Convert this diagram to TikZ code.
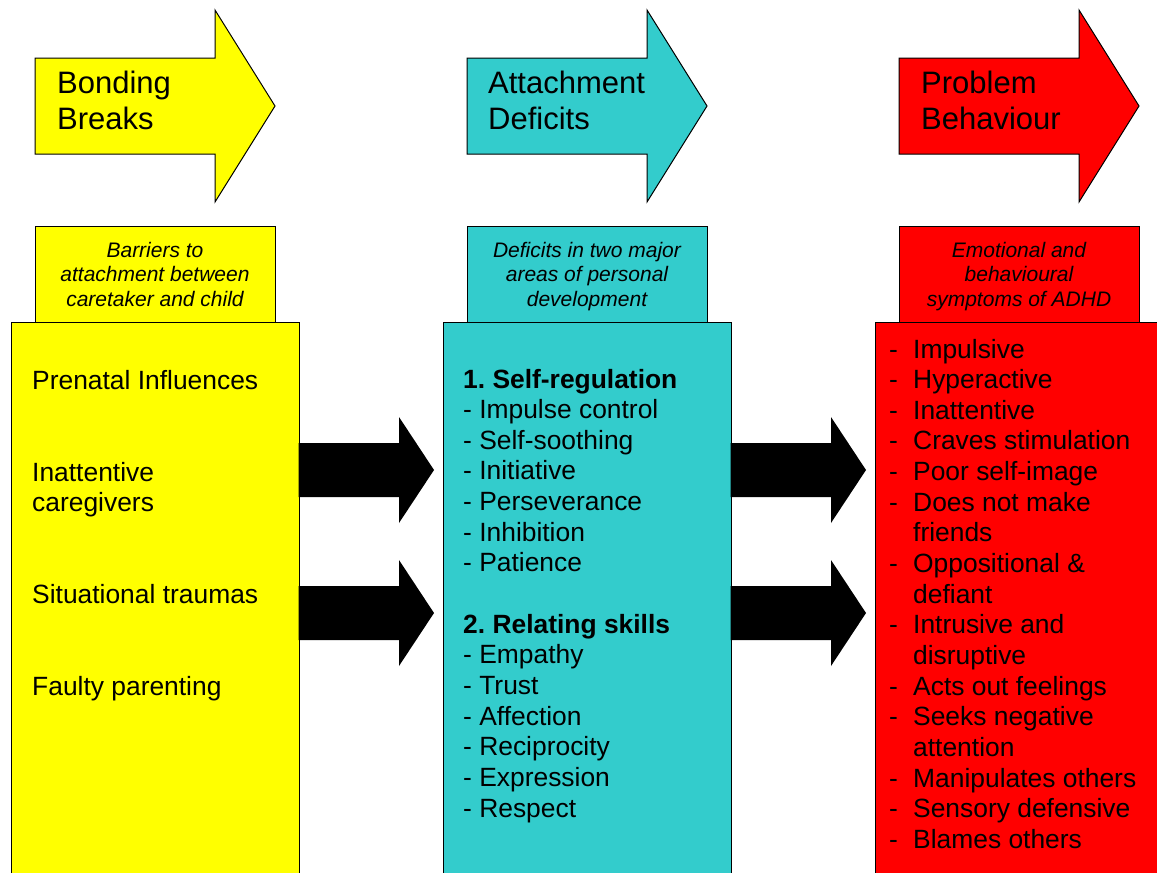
\documentclass[tikz,border=0pt]{standalone}
\usepackage{fontspec}
\setmainfont{Liberation Sans}
\frenchspacing
\definecolor{byellow}{HTML}{FFFF00}
\definecolor{bcyan}{HTML}{33CCCC}
\definecolor{bred}{HTML}{FF0000}
\tikzset{
  box/.style={draw=black, line width=1pt, rectangle, inner sep=0pt, outer sep=0pt, anchor=north west},
  bigarrow/.style={draw=black, line width=1pt},
  blackarrow/.style={fill=black, draw=none},
  titletext/.style={anchor=base west, inner sep=0pt, font=\fontsize{31}{36}\selectfont},
  subtext/.style={anchor=base, inner sep=0pt, font=\fontsize{21}{24.5}\selectfont\itshape},
  listtext/.style={anchor=base west, inner sep=0pt, font=\fontsize{26.4}{30.65}\selectfont},
}
\begin{document}
\begin{tikzpicture}[x=1pt,y=-1pt]
\useasboundingbox (0,0) rectangle (1157,873);
\clip (0,0) rectangle (1157,873);
\fill[white] (0,0) rectangle (1157,873);

% ---- title arrows ----
\foreach \c/\xo in {byellow/35, bcyan/467, bred/899}{
  \draw[bigarrow, fill=\c] (\xo,58) -- (\xo+180,58) -- (\xo+180,10) -- (\xo+240,106)
     -- (\xo+180,202) -- (\xo+180,154) -- (\xo,154) -- cycle;
}
\node[titletext] (t1a) at (57,93) {Bonding};
\node[titletext] (t1b) at (57,129) {Breaks};
\node[titletext] (t2a) at (488,93) {Attachment};
\node[titletext] (t2b) at (488,129) {Deficits};
\node[titletext] (t3a) at (921,93) {Problem};
\node[titletext] (t3b) at (921,129) {Behaviour};

% ---- main boxes ----
\node[box, fill=byellow, minimum width=288, minimum height=600] (m1) at (11,322) {};
\node[box, fill=bcyan, minimum width=288, minimum height=600] (m2) at (443,322) {};
\node[box, fill=bred, minimum width=320, minimum height=600] (m3) at (875,322) {};

% ---- subtitle boxes ----
\node[box, fill=byellow, minimum width=240, minimum height=96] (s1) at (35,226) {};
\node[box, fill=bcyan, minimum width=240, minimum height=96] (s2) at (467,226) {};
\node[box, fill=bred, minimum width=240, minimum height=96] (s3) at (899,226) {};

\node[subtext] (s1a) at (155,257) {Barriers to};
\node[subtext] (s1b) at (155,281.5) {attachment between};
\node[subtext] (s1c) at (155,306) {caretaker and child};
\node[subtext] (s2a) at (587,257) {Deficits in two major};
\node[subtext] (s2b) at (587,281.5) {areas of personal};
\node[subtext] (s2c) at (587,306) {development};
\node[subtext] (s3a) at (1019,257) {Emotional and};
\node[subtext] (s3b) at (1019,281.5) {behavioural};
\node[subtext] (s3c) at (1019,306) {symptoms of ADHD};

% ---- black connector arrows ----
\coordinate (a1) at (m1.east |- 0,470);
\coordinate (a2) at (m1.east |- 0,613);
\coordinate (a3) at (m2.east |- 0,470);
\coordinate (a4) at (m2.east |- 0,613);
\foreach \a in {a1,a2,a3,a4}{
  \fill[blackarrow] (\a) ++(-0.5,-27) -- ++(100.5,0) -- ++(0,-26) -- ++(35,53)
     -- ++(-35,53) -- ++(0,-26) -- ++(-100.5,0) -- cycle;
}

% ---- left list ----
\node[listtext] (l1) at (32,389) {Prenatal Influences};
\node[listtext] (l2) at (32,481) {Inattentive};
\node[listtext] (l3) at (32,511.5) {caregivers};
\node[listtext] (l4) at (32,603) {Situational traumas};
\node[listtext] (l5) at (32,695) {Faulty parenting};

% ---- middle list ----
\foreach \t [count=\i from 0] in {{\bfseries 1. Self-regulation},- Impulse control,- Self-soothing,- Initiative,- Perseverance,- Inhibition,- Patience,{},{\bfseries 2. Relating skills},- Empathy,- Trust,- Affection,- Reciprocity,- Expression,- Respect}{
  \node[listtext] (c\i) at (463,388+30.65*\i) {\t};
}

% ---- right list ----
\foreach \d/\t [count=\i from 0] in {-/Impulsive,-/Hyperactive,-/Inattentive,-/Craves stimulation,-/Poor self-image,-/Does not make,{}/friends,-/Oppositional \&,{}/defiant,-/Intrusive and,{}/disruptive,-/Acts out feelings,-/Seeks negative,{}/attention,-/Manipulates others,-/Sensory defensive,-/Blames others}{
  \node[listtext] (rd\i) at (889,358+30.65*\i) {\d};
  \node[listtext] (r\i) at (913,358+30.65*\i) {\t};
}
\end{tikzpicture}
\end{document}
